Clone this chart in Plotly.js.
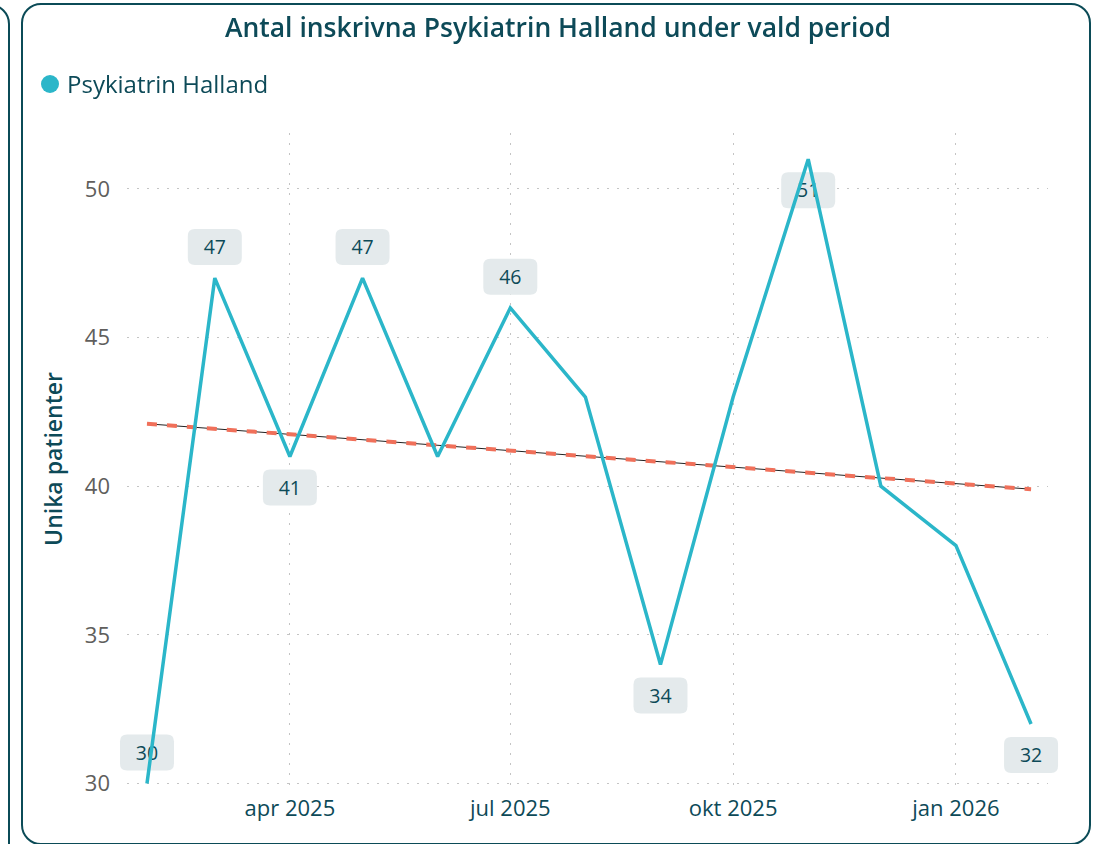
<!DOCTYPE html>
<html>
<head>
<meta charset="utf-8">
<script src="https://cdn.plot.ly/plotly-3.0.1.min.js"></script>
<style>
  html, body { margin: 0; padding: 0; background: #ffffff; width: 1101px; height: 844px; overflow: hidden; }
  .card { position: absolute; border: 2px solid #0b4b57; border-radius: 20px; box-sizing: border-box; background: #fff; }
  #left { left: -200px; top: 4px; width: 210px; height: 860px; }
  #main { left: 21px; top: 3px; width: 1070px; height: 842px; }
  #chart { position: absolute; left: 0; top: 0; width: 1101px; height: 844px; }
</style>
</head>
<body>
<div class="card" id="left"></div>
<div class="card" id="main"></div>
<div id="chart"></div>
<script>
// ---- data ----
const months = ['2025-02-01','2025-03-01','2025-04-01','2025-05-01','2025-06-01','2025-07-01','2025-08-01',
                '2025-09-01','2025-10-01','2025-11-01','2025-12-01','2026-01-01','2026-02-01'];
const patients = [30, 47, 41, 47, 41, 46, 43, 34, 43, 51, 40, 38, 32];
const trendDates = ['2025-02-01', '2026-02-01'];
const trendValues = [42.1, 39.9];
const labelDates = ['2025-02-01','2025-03-01','2025-04-01','2025-05-01','2025-07-01','2025-09-01','2025-11-01','2026-02-01'];
const labelSide = ['above','above','below','above','above','below','below','below'];
const xTickVals = ['2025-04-01','2025-07-01','2025-10-01','2026-01-01'];
const xTickText = ['apr 2025','jul 2025','okt 2025','jan 2026'];
const yTickVals = [30, 35, 40, 45, 50];
const seriesName = 'Psykiatrin Halland';

// ---- styles ----
const FONT = '"Open Sans", "Noto Sans", sans-serif';
const DARK = '#0d4a58';
const LINE = '#2bb6c9';
const TREND = '#f0705a';
const BOXBG = '#e4eaec';
const Y_RANGE = [29.95, 51.88];
const LABEL_SIZE = 19.5;

const shapes = [];
const BW = 54, BH = 36, R = 7, OFF = 31;
function roundRect(cy) {
  const x0 = -BW/2, x1 = BW/2, y0 = cy - BH/2, y1 = cy + BH/2;
  return `M ${x0+R},${y0} L ${x1-R},${y0} Q ${x1},${y0} ${x1},${y0+R} L ${x1},${y1-R} Q ${x1},${y1} ${x1-R},${y1} ` +
         `L ${x0+R},${y1} Q ${x0},${y1} ${x0},${y1-R} L ${x0},${y0+R} Q ${x0},${y0} ${x0+R},${y0} Z`;
}
const above = { x: [], y: [] }, below = { x: [], y: [] };
labelDates.forEach((d, i) => {
  const v = patients[months.indexOf(d)];
  const up = labelSide[i] === 'above';
  (up ? above : below).x.push(d);
  (up ? above : below).y.push(v);
  shapes.push({
    type: 'path', xref: 'x2', yref: 'y2', xsizemode: 'pixel', ysizemode: 'pixel',
    xanchor: d, yanchor: v, path: roundRect(up ? OFF : -OFF),
    fillcolor: BOXBG, line: { width: 0 }, layer: 'below'
  });
});

function labelTrace(set, pos, msize) {
  return {
    x: set.x, y: set.y, xaxis: 'x2', yaxis: 'y2', mode: 'markers+text',
    text: set.y.map(String), textposition: pos, cliponaxis: false,
    marker: { size: msize, opacity: 0 },
    textfont: { family: FONT, size: LABEL_SIZE, color: DARK },
    hoverinfo: 'skip', showlegend: false
  };
}

const traces = [
  { x: trendDates, y: trendValues, xaxis: 'x', yaxis: 'y', mode: 'lines',
    line: { color: '#222222', width: 1 }, hoverinfo: 'skip', showlegend: false },
  { x: trendDates, y: trendValues, xaxis: 'x', yaxis: 'y', mode: 'lines',
    line: { color: TREND, width: 4, dash: '10px,10px' }, hoverinfo: 'skip', showlegend: false },
  labelTrace(above, 'top center', 29),
  labelTrace(below, 'bottom center', 36),
  { x: months, y: patients, xaxis: 'x2', yaxis: 'y2', mode: 'lines', name: seriesName,
    line: { color: LINE, width: 3.5 }, showlegend: false }
];

const annotations = [];
// legend dot & text
shapes.push({
  type: 'circle', xref: 'x domain', yref: 'y domain', xsizemode: 'pixel', ysizemode: 'pixel',
  xanchor: 0, yanchor: 1, x0: -86, x1: -68, y0: 40, y1: 58,
  fillcolor: LINE, line: { width: 0 }
});
annotations.push({
  xref: 'x domain', yref: 'y domain', x: 0, y: 1, xshift: -62, yshift: 50, xanchor: 'left', yanchor: 'middle',
  text: seriesName, showarrow: false, font: { family: FONT, size: 24, color: DARK }
});

// main axes span 127..1048 px; an invisible wider twin axis pair (97..1078 px, same scale)
// carries the series and labels so that the label boxes are not clipped at the plot edges
const ML = 97, MR = 23, PW = 1101 - ML - MR;
const layout = {
  width: 1101, height: 844,
  paper_bgcolor: 'rgba(0,0,0,0)', plot_bgcolor: 'rgba(0,0,0,0)',
  margin: { l: ML, r: MR, t: 133, b: 59 },
  font: { family: FONT },
  title: {
    text: 'Antal inskrivna Psykiatrin Halland under vald period',
    x: 558/1101, xref: 'container', xanchor: 'center',
    y: 1 - 28/844, yref: 'container', yanchor: 'middle',
    font: { family: FONT, size: 26.5, color: DARK, weight: 600 }
  },
  showlegend: false,
  xaxis: {
    type: 'date', range: ['2025-01-23 18:00', '2026-02-08'],
    domain: [(127 - ML) / PW, (1048 - ML) / PW], anchor: 'y',
    tickvals: xTickVals, ticktext: xTickText,
    showgrid: true, gridcolor: '#c4c4c4', griddash: '2px,8px', gridwidth: 1,
    zeroline: false, showline: false, ticks: '',
    tickfont: { family: FONT, size: 22, color: DARK },
    ticklabelstandoff: 8
  },
  yaxis: {
    range: Y_RANGE, anchor: 'x',
    tickvals: yTickVals,
    showgrid: true, gridcolor: '#c4c4c4', griddash: '2px,8px', gridwidth: 1,
    zeroline: false, showline: false, ticks: '',
    tickfont: { family: FONT, size: 22, color: '#605e5c' },
    ticklabelstandoff: 16,
    title: { text: 'Unika patienter', standoff: 15, font: { family: FONT, size: 23, color: DARK, weight: 600 } }
  },
  xaxis2: {
    type: 'date', range: ['2025-01-11 08:44', '2026-02-20 09:16'],
    domain: [0, 1], anchor: 'y2', visible: false, showgrid: false
  },
  yaxis2: {
    range: Y_RANGE, domain: [0, 1], anchor: 'x2', visible: false, showgrid: false
  },
  shapes: shapes,
  annotations: annotations
};

Plotly.newPlot('chart', traces, layout, { displayModeBar: false, staticPlot: true });
</script>
</body>
</html>
